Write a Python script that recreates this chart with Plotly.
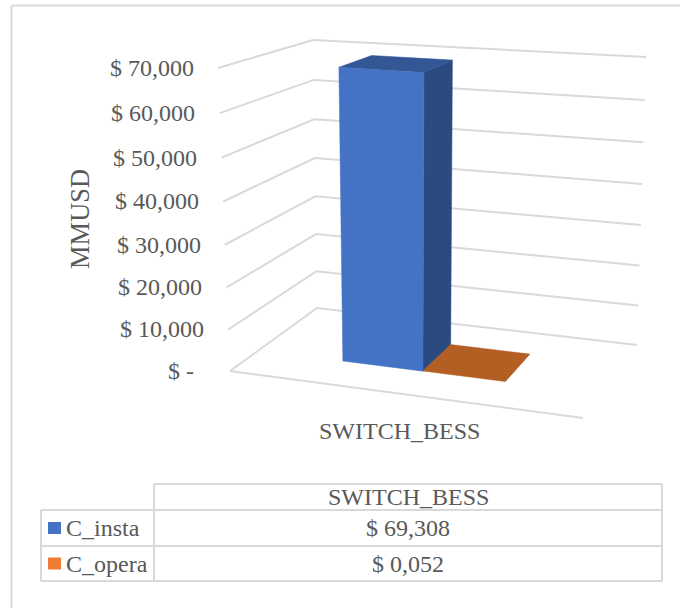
import plotly.graph_objects as go

# ---- data ----
categories = ["SWITCH_BESS"]
series_names = ["C_insta", "C_opera"]
series_values = [69308, 52]
table_values = ["$ 69,308", "$ 0,052"]
axis_title = "MMUSD"
tick_values = [0, 10000, 20000, 30000, 40000, 50000, 60000, 70000]
tick_labels = ["$ -\u00a0\u00a0", "$ 10,000", "$ 20,000", "$ 30,000", "$ 40,000", "$ 50,000", "$ 60,000", "$ 70,000"]

# ---- oblique view of the chart box, in page pixels ----
Z_MAX = 70000
FL0, FR0, BL0, BR0 = (230, 371), (583, 418), (317, 308), (637, 345)
FL1, FR1, BL1, BR1 = (218, 68), (597, 93), (313, 40), (646, 57)
PERSP = 0.05
BAR_T = [(0.246, 0.48), (0.48, 0.72)]
BAR_D = (0.33, 0.72)

FRONT = ["#4472C4", "#ED7D31"]
TOP = ["#335694", "#B35E22"]
SIDE = ["#2A4A80", "#A4551F"]
GRID = "#D9D9D9"
TEXT = "#595959"
SERIF = "Liberation Serif, Times New Roman, serif"


def lerp(a, b, s):
    return (a[0] + (b[0] - a[0]) * s, a[1] + (b[1] - a[1]) * s)


def proj(t, d, value):
    z = value / Z_MAX
    p = z / (1 + PERSP * (1 - z))
    floor = lerp(lerp(FL0, FR0, t), lerp(BL0, BR0, t), d)
    top = lerp(lerp(FL1, FR1, t), lerp(BL1, BR1, t), d)
    return lerp(floor, top, p)


fig = go.Figure()


def poly(pts, color):
    fig.add_trace(go.Scatter(
        x=[p[0] for p in pts] + [pts[0][0]], y=[p[1] for p in pts] + [pts[0][1]],
        mode="lines", fill="toself", fillcolor=color, line=dict(color=color, width=0.5),
        hoverinfo="skip", showlegend=False))


def line(pts, color=GRID, width=2):
    fig.add_trace(go.Scatter(
        x=[p[0] for p in pts], y=[p[1] for p in pts], mode="lines",
        line=dict(color=color, width=width), hoverinfo="skip", showlegend=False))


# gridlines on the side and back walls
for v in tick_values:
    line([proj(0, 0, v), proj(0, 1, v), proj(1, 1, v)])
line([proj(0, 0, 0), proj(1, 0, 0)])

# bars: side, top, then front
for i, v in enumerate(series_values):
    t0, t1 = BAR_T[i]
    d0, d1 = BAR_D
    poly([proj(t1, d0, 0), proj(t1, d1, 0), proj(t1, d1, v), proj(t1, d0, v)], SIDE[i])
    poly([proj(t0, d0, v), proj(t1, d0, v), proj(t1, d1, v), proj(t0, d1, v)], TOP[i])
    if v / Z_MAX > 0.01:
        poly([proj(t0, d0, 0), proj(t1, d0, 0), proj(t1, d0, v), proj(t0, d0, v)], FRONT[i])

ann = []


def label(x, y, text, size=24, anchor="center", angle=0):
    ann.append(dict(x=x, y=y, xref="x", yref="y", text=text, showarrow=False,
                    xanchor=anchor, yanchor="middle", textangle=angle,
                    font=dict(family=SERIF, size=size, color=TEXT)))


for v, lab in zip(tick_values, tick_labels):
    gx, gy = proj(0, 0, v)
    label(gx - 22.5, gy, lab, anchor="right")

label(79.5, 219.5, axis_title, size=26.5, angle=-90)
label(399, 431, categories[0])

# data table
TX = (41, 154, 662)
TY = (484, 510, 546, 581)
shapes = []


def seg(x0, y0, x1, y1):
    shapes.append(dict(type="line", xref="x", yref="y", x0=x0, y0=y0, x1=x1, y1=y1,
                       line=dict(color=GRID, width=2)))


seg(11.5, 5.5, 680, 5.5)
seg(11.5, 5.5, 11.5, 608)
seg(TX[1], TY[0], TX[2], TY[0])
for y in TY[1:]:
    seg(TX[0], y, TX[2], y)
seg(TX[0], TY[1], TX[0], TY[3])
seg(TX[1], TY[0], TX[1], TY[3])
seg(TX[2], TY[0], TX[2], TY[3])

label((TX[1] + TX[2]) / 2, (TY[0] + TY[1]) / 2, categories[0], size=24)
for i, name in enumerate(series_names):
    yc = (TY[i + 1] + TY[i + 2]) / 2
    shapes.append(dict(type="rect", xref="x", yref="y", x0=48, x1=61, y0=yc - 6, y1=yc + 6,
                       fillcolor=FRONT[i], line=dict(width=0)))
    label(64, yc, name, anchor="left")
    label((TX[1] + TX[2]) / 2, yc, table_values[i], size=24)

fig.update_layout(
    width=680, height=608, margin=dict(l=0, r=0, t=0, b=0),
    paper_bgcolor="white", plot_bgcolor="white", showlegend=False,
    xaxis=dict(range=[0, 680], visible=False, fixedrange=True),
    yaxis=dict(range=[608, 0], visible=False, fixedrange=True),
    annotations=ann, shapes=shapes)

fig.write_html("out.html", config={"displayModeBar": False},
               post_script="document.body.style.margin='0';document.body.style.overflow='hidden';")
